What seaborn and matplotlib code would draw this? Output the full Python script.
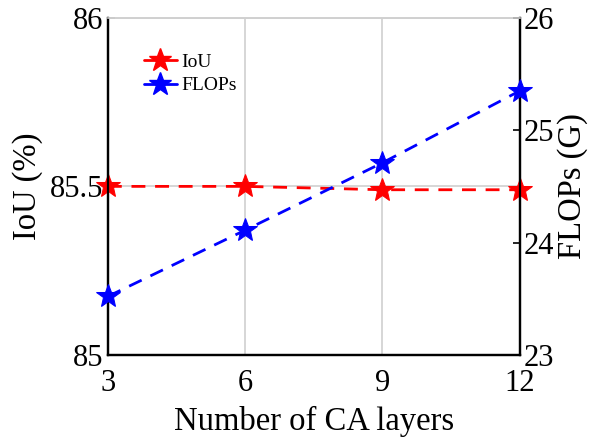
import matplotlib
matplotlib.use("Agg")
import matplotlib.pyplot as plt
import seaborn as sns
import pandas as pd
from matplotlib.lines import Line2D

layers = [3, 6, 9, 12]
iou = [85.50, 85.50, 85.49, 85.49]
flops = [23.52, 24.11, 24.71, 25.35]
x_ticks = [3, 6, 9, 12]
iou_ticks = [85, 85.5, 86]
iou_labels = ["85", "85.5", "86"]
flops_ticks = [23, 24, 25, 26]

sns.set_style("white")
plt.rcParams['font.family'] = ['Liberation Serif', 'DejaVu Serif']
plt.rcParams['text.color'] = 'black'
plt.rcParams['axes.labelcolor'] = 'black'
plt.rcParams['xtick.color'] = 'black'
plt.rcParams['ytick.color'] = 'black'

df = pd.DataFrame({"layers": layers, "IoU": iou, "FLOPs": flops})

fig = plt.figure(figsize=(5.96, 4.37), dpi=100)
ax = fig.add_axes([0.181, 0.188, 0.691, 0.771])
ax2 = ax.twinx()

dash = (0, (5, 3.5))
sns.lineplot(data=df, x="layers", y="IoU", ax=ax, color="#ff0000", linestyle=dash,
             linewidth=2, marker="*", markersize=18, markeredgecolor="#ff0000",
             zorder=3, clip_on=False)
sns.lineplot(data=df, x="layers", y="FLOPs", ax=ax2, color="#0000ff", linestyle=dash,
             linewidth=2, marker="*", markersize=18, markeredgecolor="#0000ff",
             zorder=3, clip_on=False)

ax.set_xlim(3, 12)
ax.set_ylim(85, 86)
ax2.set_ylim(23, 26)
ax.set_xticks(x_ticks)
ax.set_xticklabels([str(t) for t in x_ticks])
ax.set_yticks(iou_ticks)
ax.set_yticklabels(iou_labels)
ax2.set_yticks(flops_ticks)
ax2.set_yticklabels([str(t) for t in flops_ticks])

ax.grid(True, color="#d0d0d0", linewidth=1.2)
ax.set_axisbelow(True)

for a in (ax, ax2):
    for s in ("left", "right", "bottom"):
        a.spines[s].set_color("black")
        a.spines[s].set_linewidth(1.6)
    a.spines["top"].set_color("#d0d0d0")
    a.spines["top"].set_linewidth(1.2)

ax.tick_params(axis="x", direction="in", length=5, width=1.2, labelsize=22, pad=10, colors="black")
ax.tick_params(axis="y", direction="in", length=5, width=1.2, labelsize=22, pad=3, colors="black")
ax2.tick_params(axis="y", direction="in", length=5, width=1.2, labelsize=22, pad=3, colors="black")

ax.set_xlabel("Number of CA layers", fontsize=23.5, labelpad=6, color="black")
ax.set_ylabel("IoU (%)", fontsize=23.5, labelpad=5, color="black")
ax2.set_ylabel("FLOPs (G)", fontsize=23.5, labelpad=2, color="black")

handles = [
    Line2D([0], [0], color="#ff0000", linewidth=2, marker="*", markersize=17),
    Line2D([0], [0], color="#0000ff", linewidth=2, marker="*", markersize=17),
]
leg = ax.legend(handles, ["IoU", "FLOPs"], loc="upper left", bbox_to_anchor=(0.087, 0.895),
                frameon=False, fontsize=14, handlelength=1.7, handletextpad=0.25,
                labelspacing=0.3, borderaxespad=0, borderpad=0)
for t in leg.get_texts():
    t.set_color("black")

fig.savefig("out.png", dpi=100)
